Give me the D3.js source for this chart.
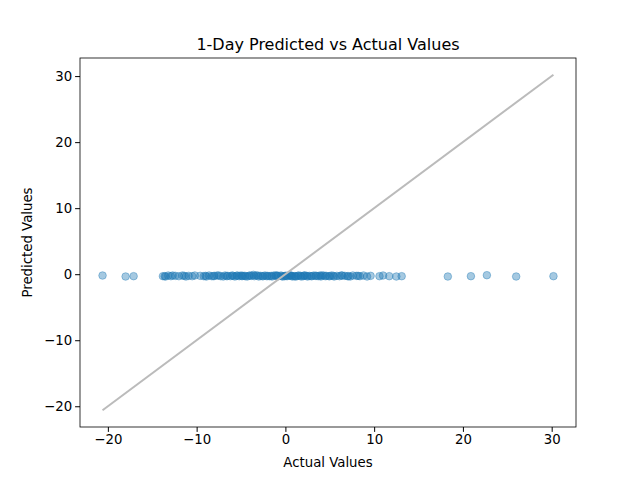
<!DOCTYPE html><html><head><script src="https://d3js.org/d3.v7.min.js"></script></head><body style="margin:0"><svg id="c" width="640" height="480"></svg><script>
const actual=[-20.6,-18,-17.1,-13.8,-13.5,-13.2,-12.9,-12.4,-12,-11.6,-11.2,-10.9,-10.5,-10.2,-9.6,-9.2,-8.9,-8.6,-8.3,-8,-7.7,-7.3,-7,-6.8,-6.5,-6.2,-6,-5.7,-5.5,-5.2,-5,-4.8,-4.5,-4.3,-4,-3.8,-3.5,-3.3,-3,-2.8,-2.5,-2.3,-2,-1.8,-1.5,-1.3,-1,-0.8,-0.5,-0.3,0,0.2,0.5,0.7,1,1.2,1.5,1.7,2,2.2,2.5,2.7,3,3.2,3.5,3.7,4,4.3,4.6,4.9,5.2,5.5,5.8,6.1,6.4,6.7,7,7.3,7.6,8,8.4,8.8,9.2,9.6,10.6,11,11.7,12.5,13.1,18.3,20.9,22.7,26,30.2,-3.6,-2.1,-0.9,0.8,2.4,3.9,-6.6,-4.6,1.8,5.0,
-5.9,-5.4,-4.9,-4.1,-3.1,-2.6,-1.6,-1.1,-0.4,0.1,0.4,1.1,1.4,2.1,2.9,3.4,4.1,4.5,5.4,6.3,7.1,8.2,-7.5,-8.1,-9,-12.7,-13.6,-11.4,0.6,-0.1];
const predicted=[-0.2,-0.35,-0.3,-0.3,-0.35,-0.2,-0.3,-0.25,-0.3,-0.2,-0.35,-0.25,-0.3,-0.2,-0.25,-0.3,-0.35,-0.2,-0.3,-0.25,-0.2,-0.3,-0.35,-0.2,-0.25,-0.3,-0.2,-0.35,-0.25,-0.3,-0.2,-0.25,-0.3,-0.35,-0.2,-0.25,-0.3,-0.2,-0.35,-0.25,-0.3,-0.2,-0.25,-0.3,-0.35,-0.2,-0.25,-0.3,-0.2,-0.35,-0.25,-0.3,-0.2,-0.25,-0.3,-0.35,-0.2,-0.25,-0.3,-0.2,-0.35,-0.25,-0.3,-0.2,-0.25,-0.3,-0.35,-0.2,-0.25,-0.3,-0.2,-0.35,-0.25,-0.3,-0.2,-0.25,-0.3,-0.35,-0.2,-0.25,-0.3,-0.2,-0.35,-0.25,-0.3,-0.2,-0.3,-0.35,-0.3,-0.35,-0.3,-0.15,-0.35,-0.3,-0.1,-0.3,-0.2,-0.35,-0.25,-0.2,-0.3,-0.25,-0.35,-0.3,
-0.25,-0.2,-0.3,-0.25,-0.2,-0.3,-0.25,-0.2,-0.3,-0.25,-0.2,-0.3,-0.25,-0.2,-0.3,-0.25,-0.2,-0.3,-0.25,-0.2,-0.3,-0.25,-0.2,-0.3,-0.25,-0.2,-0.3,-0.25,-0.2,-0.3];
const xTicks=[-20,-10,0,10,20,30], yTicks=[-20,-10,0,10,20,30];
const svg=d3.select("#c"),L=80,R=576,T=58,B=427;
svg.append("rect").attr("width",640).attr("height",480).attr("fill","#fff");
const x=d3.scaleLinear().domain([-23.14,32.74]).range([L,R]);
const y=d3.scaleLinear().domain([-23.14,32.74]).range([B,T]);
const n=Math.min(actual.length,predicted.length);
svg.append("g").selectAll("circle").data(actual.slice(0,n)).join("circle").attr("cx",d=>x(d)).attr("cy",(d,i)=>y(predicted[i])).attr("r",3.8).attr("fill","#1f77b4").attr("fill-opacity",0.4).attr("stroke","#1f77b4").attr("stroke-opacity",0.4);
svg.append("line").attr("x1",x(-20.6)).attr("y1",y(-20.6)).attr("x2",x(30.2)).attr("y2",y(30.2)).attr("stroke","#bbb").attr("stroke-width",2);
const fmt=d=>d<0?"\u2212"+(-d):d;
const ax=svg.append("g").attr("transform",`translate(0,${B})`).call(d3.axisBottom(x).tickValues(xTicks).tickSize(4.9).tickPadding(3).tickFormat(fmt));
const ay=svg.append("g").attr("transform",`translate(${L},0)`).call(d3.axisLeft(y).tickValues(yTicks).tickSize(4.9).tickPadding(3).tickFormat(fmt));
[ax,ay].forEach(a=>{a.select(".domain").remove();a.selectAll("text").style("font-family","DejaVu Sans").style("font-size","13.3px").attr("fill","#000");a.selectAll("line").attr("stroke","#000")});
svg.append("rect").attr("x",L).attr("y",T).attr("width",R-L).attr("height",B-T).attr("fill","none").attr("stroke","#000").attr("stroke-width",0.8);
svg.append("text").attr("x",(L+R)/2).attr("y",50).attr("text-anchor","middle").style("font-family","DejaVu Sans").style("font-size","16px").text("1-Day Predicted vs Actual Values");
svg.append("text").attr("x",(L+R)/2).attr("y",467).attr("text-anchor","middle").style("font-family","DejaVu Sans").style("font-size","13.3px").text("Actual Values");
svg.append("text").attr("transform",`translate(32,${(T+B)/2}) rotate(-90)`).attr("text-anchor","middle").style("font-family","DejaVu Sans").style("font-size","13.3px").text("Predicted Values");
</script></body></html>
